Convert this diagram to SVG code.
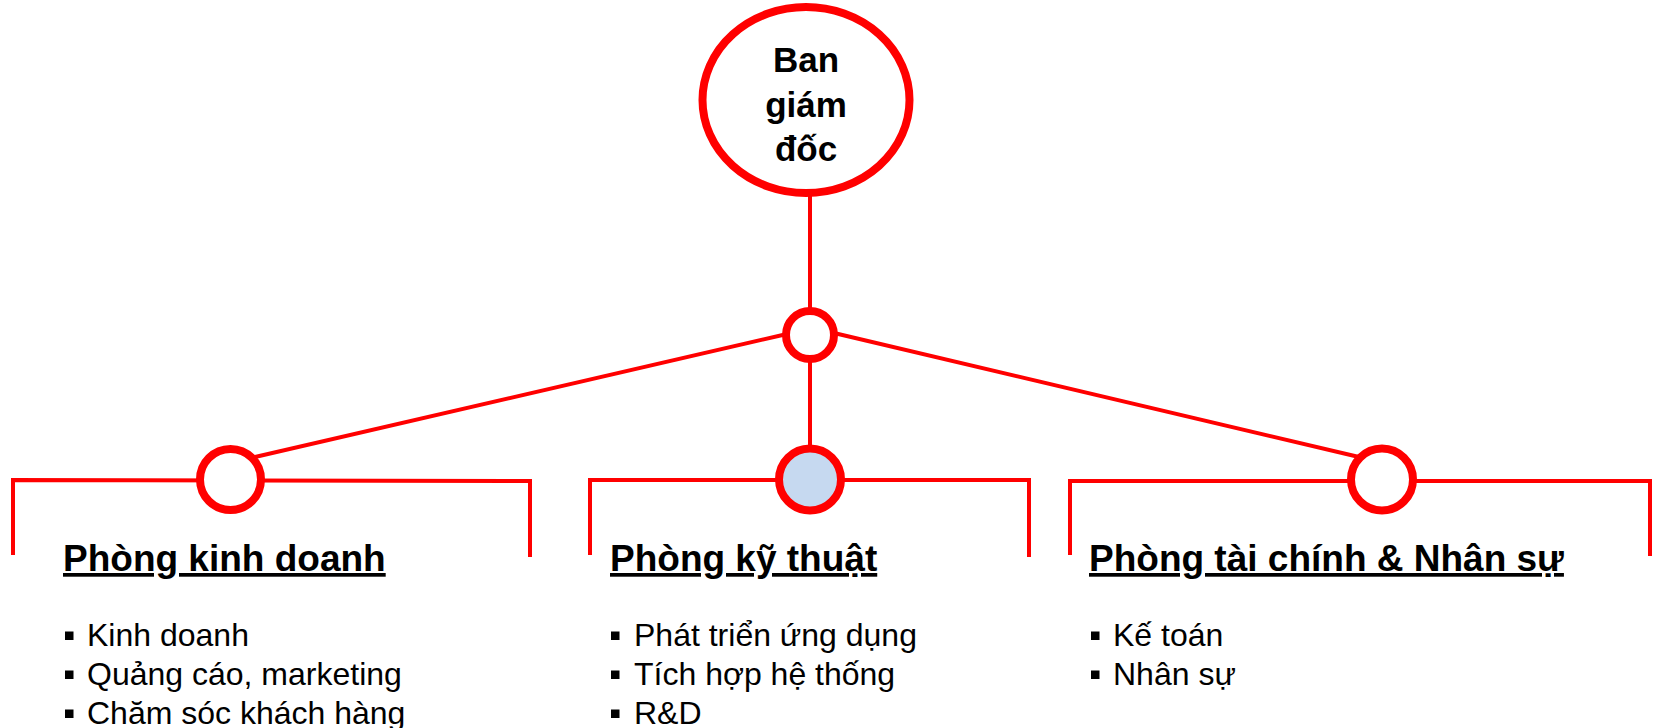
<svg xmlns="http://www.w3.org/2000/svg" width="1653" height="728" viewBox="0 0 1653 728">
<style>
.ln{fill:none;stroke:#ff0000;stroke-width:4;stroke-linecap:butt;stroke-linejoin:miter}
.ring{fill:#ffffff;stroke:#ff0000;stroke-width:8}
.top{font-family:"Liberation Sans",Arial,sans-serif;font-weight:bold;font-size:35px;fill:#000;text-anchor:middle}
.head{font-family:"Liberation Sans",Arial,sans-serif;font-weight:bold;font-size:37px;fill:#000;text-decoration:underline}
.item{font-family:"Liberation Sans",Arial,sans-serif;font-size:32px;fill:#000}
.bul{fill:#000}
</style>
<rect width="1653" height="728" fill="#ffffff"/>
<g id="connectors">
  <line class="ln" x1="810" y1="196" x2="810" y2="312"/>
  <line class="ln" x1="810" y1="357" x2="810" y2="450"/>
  <line class="ln" x1="255" y1="457" x2="787" y2="334"/>
  <line class="ln" x1="834" y1="333" x2="1359" y2="457"/>
  <polyline class="ln" points="13,555 13,480 530,481 530,557"/>
  <polyline class="ln" points="590,555 590,480 1029,480 1029,557"/>
  <polyline class="ln" points="1070,555 1070,481 1650,481 1650,556"/>
</g>
<g id="ban-giam-doc">
  <ellipse class="ring" cx="806" cy="100" rx="103.5" ry="93"/>
  <text class="top" x="806" y="72">Ban</text>
  <text class="top" x="806" y="117">giám</text>
  <text class="top" x="806" y="161">đốc</text>
</g>
<g id="hub">
  <circle class="ring" cx="810" cy="335" r="24" stroke-width="7.5"/>
</g>
<g id="phong-kinh-doanh">
  <circle class="ring" cx="230.5" cy="479.5" r="30.5"/>
  <text class="head" x="63" y="571">Phòng kinh doanh</text>
  <rect class="bul" x="65" y="631.5" width="8.5" height="8.5"/>
  <text class="item" x="87" y="646">Kinh doanh</text>
  <rect class="bul" x="65" y="670.5" width="8.5" height="8.5"/>
  <text class="item" x="87" y="685">Quảng cáo, marketing</text>
  <rect class="bul" x="65" y="709.5" width="8.5" height="8.5"/>
  <text class="item" x="87" y="724">Chăm sóc khách hàng</text>
</g>
<g id="phong-ky-thuat">
  <circle class="ring" cx="810" cy="479.5" r="31" style="fill:#c6d9f0"/>
  <text class="head" x="610" y="571">Phòng kỹ thuật</text>
  <rect class="bul" x="611" y="631.5" width="8.5" height="8.5"/>
  <text class="item" x="634" y="646">Phát triển ứng dụng</text>
  <rect class="bul" x="611" y="670.5" width="8.5" height="8.5"/>
  <text class="item" x="634" y="685">Tích hợp hệ thống</text>
  <rect class="bul" x="611" y="709.5" width="8.5" height="8.5"/>
  <text class="item" x="634" y="724">R&amp;D</text>
</g>
<g id="phong-tai-chinh-nhan-su">
  <circle class="ring" cx="1382" cy="479.5" r="31"/>
  <text class="head" x="1089" y="571">Phòng tài chính &amp; Nhân sự</text>
  <rect class="bul" x="1091" y="631.5" width="8.5" height="8.5"/>
  <text class="item" x="1113" y="646">Kế toán</text>
  <rect class="bul" x="1091" y="670.5" width="8.5" height="8.5"/>
  <text class="item" x="1113" y="685">Nhân sự</text>
</g>
</svg>
